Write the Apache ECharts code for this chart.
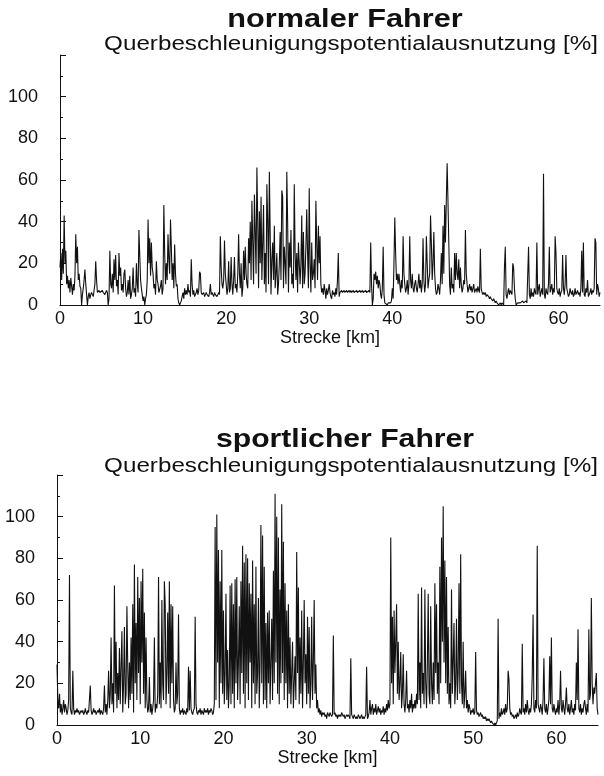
<!DOCTYPE html>
<html><head><meta charset="utf-8">
<script src="https://cdn.jsdelivr.net/npm/echarts@6/dist/echarts.min.js"></script>
<style>html,body{margin:0;padding:0;background:#fff}#c{width:604px;height:776px}</style>
</head><body><div id="c"></div>
<script>
// Sampling step along the route (km)
const STEP_KM = 0.1;
const xTicks = [0, 10, 20, 30, 40, 50, 60];
const yTicks = [0, 20, 40, 60, 80, 100];
const titles = ['normaler Fahrer', 'sportlicher Fahrer'];
const yName = 'Querbeschleunigungspotentialausnutzung [%]';
const xName = 'Strecke [km]';

// normaler Fahrer, one row per km (values at x.0 .. x.9)
const normal = [
 18,25,12,27,15,43,20,26,10,14,
 8,12,6,13,9,5,10,7,14,34,
 20,28,12,15,9,8,0,5,8,12,
 17,10,5,0,4,6,3,5,6,5,
 4,7,10,21,12,6,6,7,6,6,
 6,7,6,6,5,6,7,6,0,3,
 26,10,8,15,6,22,12,24,9,12,
 5,25,14,18,7,10,6,15,17,8,
 4,6,12,5,14,3,5,8,18,6,
 8,4,20,10,6,36,24,12,8,5,
 2,4,0,3,5,12,41,20,32,14,
 30,18,15,8,10,5,21,12,10,6,
 6,9,12,5,8,48,25,10,20,12,
 34,22,15,41,28,12,20,8,29,15,
 9,10,3,1,0,1,2,4,6,3,
 8,5,7,5,10,6,7,4,22,10,
 5,7,4,5,6,8,5,7,16,15,
 6,5,5,6,4,5,6,5,5,4,
 6,10,5,6,5,4,6,5,5,4,
 5,6,5,33,18,10,8,12,31,15,
 10,5,8,21,6,8,23,10,5,12,
 23,8,10,6,15,34,15,8,20,4,
 8,26,12,28,15,10,8,32,20,40,
 12,50,30,10,53,35,15,66,40,8,
 45,20,52,12,30,48,10,25,6,58,
 40,10,64,35,5,22,30,12,38,8,
 15,25,5,10,20,35,12,55,52,8,
 28,20,10,64,40,6,30,18,36,10,
 15,8,58,25,12,25,6,30,20,10,
 20,43,8,35,10,15,28,46,25,8,
 56,20,6,30,12,15,22,8,50,30,
 12,38,20,33,10,6,8,5,10,7,
 3,8,5,7,10,6,4,3,7,5,
 6,4,8,5,12,25,4,6,6,7,
 6,6,7,6,6,7,6,6,7,6,
 7,6,6,7,6,6,6,7,6,6,
 6,7,6,6,7,6,6,6,7,6,
 6,6,7,6,30,10,0,3,15,12,
 16,10,14,8,12,10,5,3,8,28,
 5,1,1,1,0,1,1,1,1,2,
 8,3,20,42,25,12,15,10,15,10,
 6,12,8,33,15,10,6,8,12,5,
 10,33,12,8,15,8,6,10,12,8,
 6,10,15,8,12,6,10,32,12,6,
 10,33,20,8,12,15,43,30,12,20,
 35,15,8,5,6,10,8,5,12,25,
 10,38,15,48,30,50,68,50,30,10,
 5,18,8,10,6,25,12,25,15,12,
 22,8,18,10,6,8,12,10,36,15,
 10,6,8,10,7,9,6,8,10,6,
 7,8,6,9,7,6,27,8,6,5,
 6,5,6,4,5,5,4,3,4,3,
 3,2,3,2,1,2,1,1,0,0,
 1,0,1,1,0,18,28,5,3,6,
 8,5,7,6,5,20,18,8,3,0,
 0,1,1,1,1,1,1,2,1,1,
 1,2,1,1,28,5,3,8,4,6,
 4,8,6,5,30,5,8,10,4,6,
 8,5,63,5,3,8,6,5,10,28,
 6,8,10,5,8,6,33,25,8,6,
 5,8,4,6,7,24,8,5,10,24,
 8,6,4,5,8,6,5,7,4,5,
 8,5,6,7,5,6,4,8,26,6,
 30,5,4,8,6,12,4,5,6,8,
 5,7,6,8,32,30,5,10,8,4,
 6
];

// sportlicher Fahrer, one row per km
const sport = [
 29,12,8,15,6,10,5,8,12,6,
 10,8,5,7,12,72,8,6,5,26,
 8,5,7,6,8,6,7,5,6,7,
 6,7,5,6,8,6,5,7,6,6,
 19,7,5,6,8,6,7,5,6,7,
 6,8,5,7,6,5,8,19,6,10,
 5,12,26,8,15,42,10,20,6,67,
 15,40,8,25,12,37,10,28,45,6,
 20,47,10,15,57,28,8,30,12,42,
 15,58,6,77,20,49,12,71,25,61,
 10,69,30,75,15,54,8,42,12,6,
 8,23,6,10,5,8,12,42,6,10,
 8,15,71,10,30,8,60,20,12,69,
 58,10,25,54,15,69,8,58,20,57,
 12,6,8,30,10,15,53,8,5,7,
 6,8,5,7,6,5,8,6,28,7,
 26,8,6,5,7,8,52,10,6,5,
 7,6,8,5,7,6,5,8,6,7,
 6,8,5,7,6,8,7,5,6,10,
 95,12,101,30,84,8,69,20,84,15,
 55,10,25,63,12,36,8,20,67,10,
 68,15,58,8,70,20,71,12,30,57,
 10,69,25,86,15,78,8,82,20,80,
 12,68,30,63,8,79,20,58,10,76,
 15,25,61,8,30,96,20,91,10,76,
 12,49,8,54,20,55,10,30,51,12,
 74,20,111,30,100,15,90,10,65,20,
 106,25,88,12,68,20,55,8,58,15,
 42,10,25,40,8,20,33,12,83,25,
 66,10,42,15,55,8,30,60,20,34,
 10,52,15,47,8,20,52,12,30,60,
 15,29,8,12,6,8,5,7,4,6,
 5,6,4,5,3,6,5,4,6,5,
 4,5,43,5,6,4,5,3,5,4,
 5,4,6,5,4,5,3,4,5,4,
 5,4,3,32,5,4,3,5,4,3,
 4,3,5,4,3,4,5,3,4,3,
 4,5,28,3,4,6,12,5,8,10,
 5,8,6,10,5,7,9,6,8,5,
 7,6,9,5,8,6,10,7,12,8,
 10,90,20,52,10,55,25,40,58,15,
 40,12,20,35,8,15,34,10,6,12,
 26,8,10,6,12,8,15,6,10,8,
 12,8,15,10,63,12,30,8,66,15,
 25,10,65,20,8,30,63,15,10,57,
 20,10,30,12,68,25,58,15,30,10,
 76,20,90,40,105,30,79,20,71,15,
 47,10,20,8,65,15,30,49,10,20,
 51,12,25,68,15,82,20,10,40,8,
 15,26,8,12,6,10,8,5,7,6,
 8,5,6,35,7,5,6,4,5,6,
 4,5,3,4,3,4,2,3,2,3,
 2,1,2,1,1,0,1,0,1,2,
 51,3,6,4,8,5,6,8,5,10,
 6,8,26,22,8,5,6,4,5,3,
 4,5,3,6,4,5,8,6,5,39,
 6,8,5,10,6,12,7,5,8,6,
 10,24,53,8,6,12,8,86,10,8,
 6,10,8,5,12,32,8,6,10,5,
 8,12,33,10,42,8,6,10,7,5,
 8,6,12,5,10,26,8,6,12,8,
 5,10,18,8,6,10,5,8,12,6,
 8,5,10,7,30,12,46,8,6,10,
 5,8,6,10,12,8,5,10,6,46,
 12,15,61,20,10,18,15,20,25,8,
 5
];

const FONT = '"Liberation Sans", Arial, sans-serif';
const toPairs = arr => arr.map((v, i) => [Math.round(i * STEP_KM * 10) / 10, v]);

const grids = [
  {left: 60, width: 540, top: 55, height: 250},
  {left: 57, width: 541, top: 475, height: 250}
];

function xAxis(gi) {
  return {
    type: 'value', gridIndex: gi, min: 0, max: 65, interval: 10,
    name: xName, nameLocation: 'middle', nameGap: 24,
    nameTextStyle: {fontFamily: FONT, fontSize: 18, color: '#111'},
    axisLine: {show: true, lineStyle: {color: '#111', width: 1.2}},
    axisTick: {show: false},
    splitLine: {show: false},
    axisLabel: {fontFamily: FONT, fontSize: 18, color: '#111', margin: 5,
      showMaxLabel: false,
      formatter: v => xTicks.includes(v) ? String(v) : ''}
  };
}
function yAxis(gi) {
  return {
    type: 'value', gridIndex: gi, min: 0, max: 120, interval: 20,
    axisLine: {show: true, lineStyle: {color: '#111', width: 1}},
    axisTick: {show: true, inside: true, length: 6, lineStyle: {color: '#111'}},
    minorTick: {show: true, splitNumber: 2, length: 3, lineStyle: {color: '#111'}},
    splitLine: {show: false},
    axisLabel: {fontFamily: FONT, fontSize: 18, color: '#111', margin: 22,
      formatter: v => yTicks.includes(v) ? String(v) : ''}
  };
}
function titleText(text, x, y, size, bold, sx) {
  return {type: 'text', x: x, y: y, scaleX: sx,
    style: {text: text, font: (bold ? 'bold ' : '') + size + 'px ' + FONT,
      fill: '#111', textAlign: 'center', textVerticalAlign: 'middle',
      align: 'center', verticalAlign: 'middle'}};
}

const chart = echarts.init(document.getElementById('c'), null, {renderer: 'canvas'});
chart.setOption({
  animation: false,
  backgroundColor: '#fff',
  grid: grids,
  xAxis: [xAxis(0), xAxis(1)],
  yAxis: [yAxis(0), yAxis(1)],
  graphic: [
    titleText(titles[0], 345, 20, 26, true, 1.18),
    titleText(yName, 351, 44, 20, false, 1.21),
    titleText(titles[1], 345, 440, 26, true, 1.16),
    titleText(yName, 351, 466, 20, false, 1.21)
  ],
  series: [
    {type: 'line', xAxisIndex: 0, yAxisIndex: 0, data: toPairs(normal),
      showSymbol: false, symbol: 'none', sampling: null,
      lineStyle: {color: '#111', width: 1.1}},
    {type: 'line', xAxisIndex: 1, yAxisIndex: 1, data: toPairs(sport),
      showSymbol: false, symbol: 'none', sampling: null,
      lineStyle: {color: '#111', width: 1.1}}
  ]
});
</script>
</body></html>
